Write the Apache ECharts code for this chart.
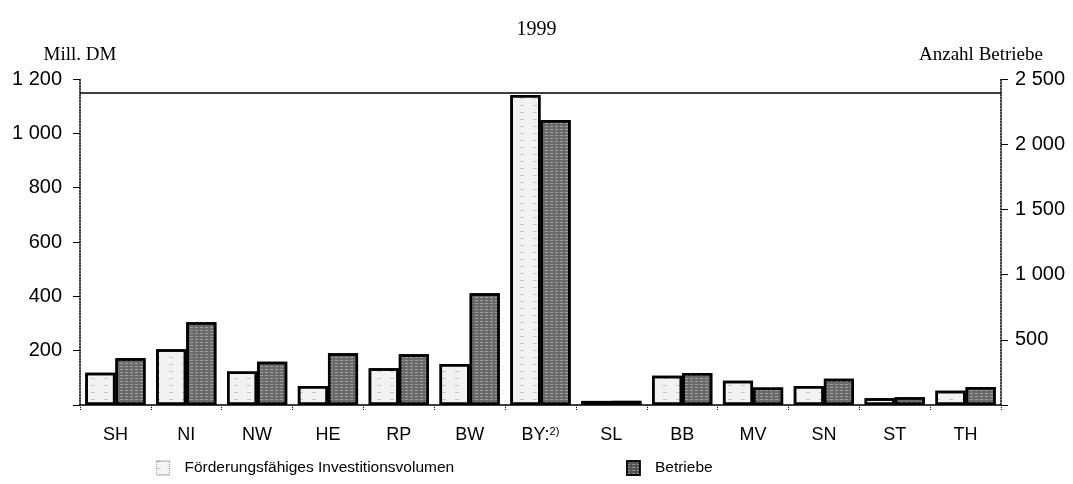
<!DOCTYPE html>
<html><head><meta charset="utf-8">
<script src="https://cdn.jsdelivr.net/npm/echarts@6/dist/echarts.min.js"></script>
<style>html,body{margin:0;padding:0;background:#fff}#c{width:1073px;height:484px}</style>
</head><body><div id="c"></div>
<script>
const title = '1999';
const categories = ['SH','NI','NW','HE','RP','BW','BY 2)','SL','BB','MV','SN','ST','TH'];
const investVolumen = [119, 205, 123, 70, 135, 151, 1141, 15, 108, 89, 70, 25, 52];   // Mill. DM
const betriebe = [358, 634, 332, 396, 389, 857, 2186, 32, 246, 135, 202, 59, 138];   // Anzahl
const leftTicks = [200, 400, 600, 800, 1000, 1200];
const rightTicks = [500, 1000, 1500, 2000, 2500];
const frameLineValue = 1150;

const fmt = v => v === 0 ? '' : String(v).replace(/\B(?=(\d{3})+(?!\d))/g, ' ');
const sans = '"Liberation Sans", Arial, sans-serif';
const serif = '"Liberation Serif", "Times New Roman", serif';

const chart = echarts.init(document.getElementById('c'), null, {renderer: 'canvas'});
chart.setOption({
  animation: false,
  backgroundColor: '#fff',
  title: {text: title, left: 'center', top: 15, textStyle: {fontFamily: serif, fontSize: 20, fontWeight: 'normal', color: '#000'}},
  legend: {
    left: 151, top: 455, itemWidth: 13, itemHeight: 14, itemGap: 172, icon: 'rect',
    textStyle: {fontFamily: sans, fontSize: 15.5, color: '#000', padding: [0, 0, 0, 10]},
    data: [
      {name: 'Förderungsfähiges Investitionsvolumen', itemStyle: {color: '#f4f4f4', borderColor: '#999', borderWidth: 1, borderType: 'dotted'}},
      {name: 'Betriebe', itemStyle: {color: '#555', borderColor: '#000', borderWidth: 1.5}}
    ]
  },
  grid: {left: 80, right: 72, top: 79, bottom: 79},
  xAxis: {
    type: 'category', data: categories,
    axisLine: {lineStyle: {color: '#000', width: 1.5}},
    axisTick: {show: true, length: 5, interval: 0, lineStyle: {color: '#000', type: 'dotted'}},
    axisLabel: {interval: 0, fontFamily: sans, fontSize: 18, color: '#000', margin: 21,
      formatter: v => v === 'BY 2)' ? 'BY:{s|2)}' : v,
      rich: {s: {fontSize: 11, fontFamily: sans, color: '#000', verticalAlign: 'top', padding: [0, 0, 6, 0]}}}
  },
  yAxis: [
    {
      type: 'value', min: 0, max: 1200, interval: 200, position: 'left',
      name: 'Mill. DM', nameLocation: 'end', nameGap: 14,
      nameTextStyle: {fontFamily: serif, fontSize: 19, color: '#000', align: 'center'},
      axisLine: {show: true, lineStyle: {color: '#000', type: 'dotted', width: 1.5}},
      axisTick: {show: true, length: 7, lineStyle: {color: '#000'}},
      axisLabel: {fontFamily: sans, fontSize: 20, color: '#000', margin: 18, formatter: fmt},
      splitLine: {show: false}
    },
    {
      type: 'value', min: 0, max: 2500, interval: 500, position: 'right',
      name: 'Anzahl Betriebe', nameLocation: 'end', nameGap: 14,
      nameTextStyle: {fontFamily: serif, fontSize: 19, color: '#000', align: 'center', padding: [0, 40, 0, 0]},
      axisLine: {show: true, lineStyle: {color: '#000', type: 'dotted', width: 1.5}},
      axisTick: {show: true, length: 7, lineStyle: {color: '#000'}},
      axisLabel: {fontFamily: sans, fontSize: 20, color: '#000', margin: 14, formatter: fmt},
      splitLine: {show: false}
    }
  ],
  series: [
    {
      name: 'Förderungsfähiges Investitionsvolumen', type: 'bar', yAxisIndex: 0, data: investVolumen,
      barGap: '0%', barCategoryGap: '15%',
      itemStyle: {color: '#f2f2f2', borderColor: '#000', borderWidth: 2.5,
        decal: {symbol: 'rect', color: 'rgba(0,0,0,0.18)', dashArrayX: [[4, 9]], dashArrayY: [1, 6], symbolSize: 1}},
      markLine: {silent: true, symbol: 'none', label: {show: false},
        lineStyle: {color: '#000', type: 'solid', width: 1.5},
        data: [{yAxis: frameLineValue}]}
    },
    {
      name: 'Betriebe', type: 'bar', yAxisIndex: 1, data: betriebe,
      barGap: '0%', barCategoryGap: '15%',
      itemStyle: {color: '#6a6a6a', borderColor: '#000', borderWidth: 2.5,
        decal: {symbol: 'rect', color: 'rgba(255,255,255,0.35)', dashArrayX: [[3, 2]], dashArrayY: [1, 2], symbolSize: 1}}
    }
  ]
});
</script></body></html>
